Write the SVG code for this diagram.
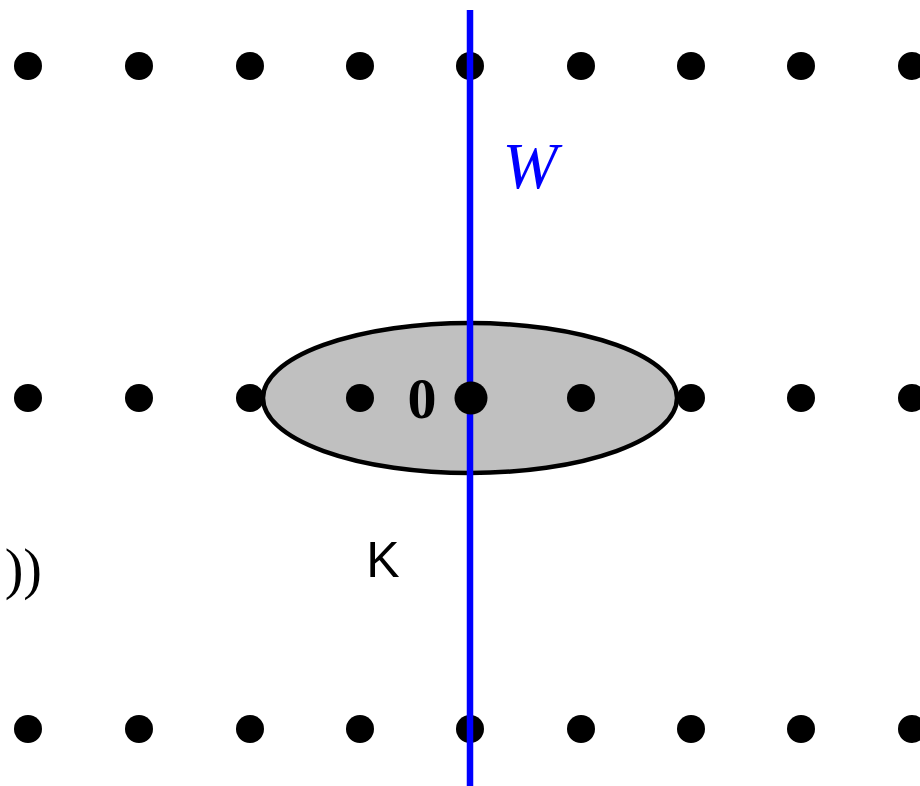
<svg xmlns="http://www.w3.org/2000/svg" width="920" height="786" viewBox="0 0 920 786">
<style>
.d{fill:#000}
.t{font-family:"Liberation Serif",serif}
</style>
<rect width="920" height="786" fill="#fff"/>
<g id="region">
<ellipse cx="470" cy="398" rx="207" ry="75" fill="#c0c0c0" stroke="#000" stroke-width="4.5"/>
</g>
<g id="lattice">
<circle class="d" cx="28" cy="66" r="14"/><circle class="d" cx="139" cy="66" r="14"/><circle class="d" cx="250" cy="66" r="14"/><circle class="d" cx="360" cy="66" r="14"/><circle class="d" cx="470" cy="66" r="14"/><circle class="d" cx="581" cy="66" r="14"/><circle class="d" cx="691" cy="66" r="14"/><circle class="d" cx="801" cy="66" r="14"/><circle class="d" cx="912" cy="66" r="14"/>
<circle class="d" cx="28" cy="398" r="14"/><circle class="d" cx="139" cy="398" r="14"/><circle class="d" cx="250" cy="398" r="14"/><circle class="d" cx="360" cy="398" r="14"/><circle class="d" cx="581" cy="398" r="14"/><circle class="d" cx="691" cy="398" r="14"/><circle class="d" cx="801" cy="398" r="14"/><circle class="d" cx="912" cy="398" r="14"/>
<circle class="d" cx="28" cy="729" r="14"/><circle class="d" cx="139" cy="729" r="14"/><circle class="d" cx="250" cy="729" r="14"/><circle class="d" cx="360" cy="729" r="14"/><circle class="d" cx="470" cy="729" r="14"/><circle class="d" cx="581" cy="729" r="14"/><circle class="d" cx="691" cy="729" r="14"/><circle class="d" cx="801" cy="729" r="14"/><circle class="d" cx="912" cy="729" r="14"/>
</g>
<g id="connectors">
<line x1="470" y1="10" x2="470" y2="786" stroke="#0000ff" stroke-width="6.5"/>
</g>
<g id="origin">
<circle class="d" cx="471" cy="398" r="16.5"/>
<text class="t" x="422" y="418" font-size="58" font-weight="bold" text-anchor="middle">0</text>
</g>
<text class="t" x="530" y="188" font-size="66" font-style="italic" fill="#0000ff" text-anchor="middle">W</text>
<text x="383" y="577" font-size="50" font-family="Liberation Sans,sans-serif" text-anchor="middle">K</text>
<text class="t" x="42" y="588" font-size="56" text-anchor="end">))</text>
</svg>
